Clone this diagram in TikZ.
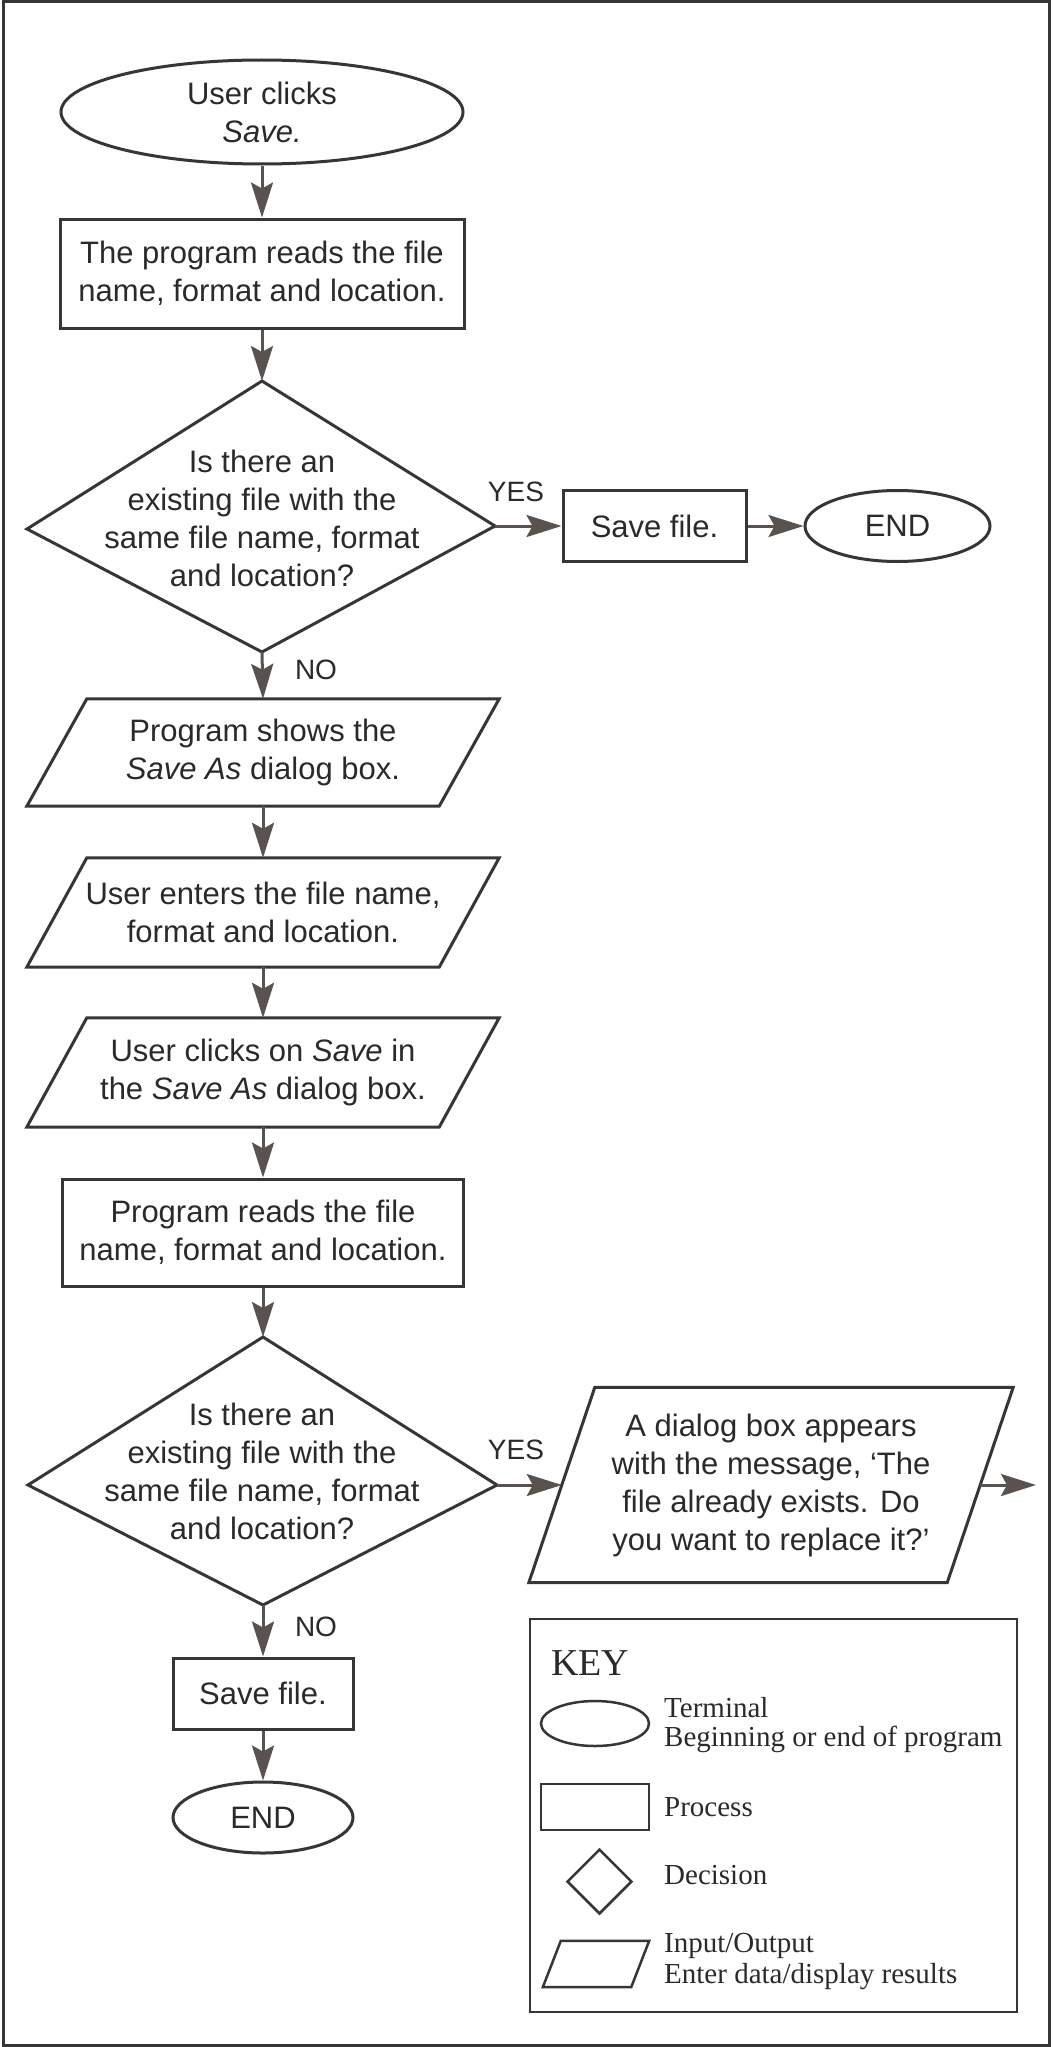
\documentclass[tikz,border=0pt]{standalone}
\usepackage{fontspec}
\setmainfont{Liberation Sans}
\newfontfamily\keyfont{Liberation Serif}
\usetikzlibrary{shapes.geometric,arrows.meta}
\definecolor{ink}{HTML}{2A2A2A}
\definecolor{linec}{HTML}{363636}
\definecolor{arrc}{HTML}{5A524E}
\begin{document}
\begin{tikzpicture}[x=1pt,y=-1pt,
  txt/.style={font=\fontsize{31}{38}\selectfont, text=ink, align=center, inner sep=0pt},
  lbl/.style={font=\fontsize{28}{30}\selectfont, text=ink, inner sep=0pt},
  shp/.style={draw=linec, line width=3pt},
  term/.style={txt, shp, ellipse},
  proc/.style={txt, shp, rectangle},
  conn/.style={draw=arrc, line width=3pt, -{Stealth[length=35pt,width=22pt,inset=6pt]}},
  keyshp/.style={draw=linec, line width=2.5pt, inner sep=0pt},
  keytxt/.style={font=\keyfont\fontsize{29}{32}\selectfont, text=ink, inner sep=0pt, anchor=base west},
]
\useasboundingbox (0,0) rectangle (1054,2047);
\fill[white] (0,0) rectangle (1054,2047);
\draw[draw=linec, line width=3pt] (3,1.5) rectangle (1049.5,2045.5);

% main column
\node[term, minimum width=402, minimum height=104] (start) at (262,112) {User clicks\\\textit{Save.}};
\node[proc, minimum width=404, minimum height=109] (p1) at (262,273.5) {The program reads the file\\name, format and location.};

\coordinate (d1t) at (262,381);
\coordinate (d1r) at (495,526);
\coordinate (d1b) at (262,652);
\coordinate (d1l) at (27,529);
\draw[shp] (d1t) -- (d1r) -- (d1b) -- (d1l) -- cycle;
\node[txt] (d1) at (262,518) {Is there an\\existing file with the\\same file name, format\\and location?};

\node[lbl] (yes1) at (516,492) {YES};
\node[proc, minimum width=183, minimum height=71] (s1) at (654.5,526) {Save file.};
\node[term, minimum width=185, minimum height=71] (e1) at (897.5,526) {END};
\node[lbl] (no1) at (316,670) {NO};

\node[txt, minimum width=412, minimum height=107] (io1) at (263,752.5) {Program shows the\\\textit{Save As} dialog box.};
\draw[shp] ([xshift=30pt]io1.north west) -- ([xshift=30pt]io1.north east) -- ([xshift=-30pt]io1.south east) -- ([xshift=-30pt]io1.south west) -- cycle;
\node[txt, minimum width=412, minimum height=109] (io2) at (263,912.5) {User enters the file name,\\format and location.};
\draw[shp] ([xshift=30pt]io2.north west) -- ([xshift=30pt]io2.north east) -- ([xshift=-30pt]io2.south east) -- ([xshift=-30pt]io2.south west) -- cycle;
\node[txt, minimum width=412, minimum height=109] (io3) at (263,1072.5) {User clicks on \textit{Save} in\\the \textit{Save As} dialog box.};
\draw[shp] ([xshift=30pt]io3.north west) -- ([xshift=30pt]io3.north east) -- ([xshift=-30pt]io3.south east) -- ([xshift=-30pt]io3.south west) -- cycle;

\node[proc, minimum width=401, minimum height=107] (p2) at (263,1232.5) {Program reads the file\\name, format and location.};

\coordinate (d2t) at (263,1337);
\coordinate (d2r) at (497,1485);
\coordinate (d2b) at (263,1605);
\coordinate (d2l) at (28,1485);
\draw[shp] (d2t) -- (d2r) -- (d2b) -- (d2l) -- cycle;
\node[txt] (d2) at (262,1471) {Is there an\\existing file with the\\same file name, format\\and location?};

\node[lbl] (yes2) at (516,1450) {YES};
\node[txt, minimum width=418, minimum height=195] (io4) at (771,1485) {A dialog box appears\\with the message, ‘The\\file already exists. Do\\you want to replace it?’};
\draw[shp] ([xshift=33pt]io4.north west) -- ([xshift=33pt]io4.north east) -- ([xshift=-33pt]io4.south east) -- ([xshift=-33pt]io4.south west) -- cycle;
\coordinate (out) at (1036,1485);

\node[lbl] (no2) at (316,1627) {NO};
\node[proc, minimum width=180, minimum height=71] (s2) at (263,1693.5) {Save file.};
\node[term, minimum width=180, minimum height=71] (e2) at (263,1817.5) {END};

% connectors
\draw[conn] (start.south) -- (p1.north);
\draw[conn] (p1.south) -- (d1t);
\draw[conn] (d1r) -- (s1.west);
\draw[conn] (s1.east) -- (e1.west);
\draw[conn] (d1b) -- (io1.north);
\draw[conn] (io1.south) -- (io2.north);
\draw[conn] (io2.south) -- (io3.north);
\draw[conn] (io3.south) -- (p2.north);
\draw[conn] (p2.south) -- (d2t);
\draw[conn] (d2r) -- (io4.west);
\draw[conn] (io4.east) -- (out);
\draw[conn] (d2b) -- (s2.north);
\draw[conn] (s2.south) -- (e2.north);

% key
\node[keyshp, rectangle, minimum width=487, minimum height=393] (key) at (773.5,1815.5) {};
\node[font=\keyfont\fontsize{38}{40}\selectfont, text=ink, inner sep=0pt, anchor=base west] (keyt) at (551,1675) {KEY};
\node[keyshp, ellipse, minimum width=108, minimum height=45] (kterm) at (595,1723.5) {};
\node[keytxt] (kterm1) at (664,1717) {Terminal};
\node[keytxt] (kterm2) at (664,1746) {Beginning or end of program};
\node[keyshp, rectangle, minimum width=108, minimum height=46] (kproc) at (595,1807) {};
\node[keytxt] (kproct) at (664,1816) {Process};
\node[keyshp, diamond, minimum width=65, minimum height=65] (kdec) at (599.5,1881.5) {};
\node[keytxt] (kdect) at (664,1884) {Decision};
\node[minimum width=88, minimum height=46, inner sep=0pt] (kio) at (596,1964) {};
\draw[keyshp] ([xshift=9pt]kio.north west) -- ([xshift=9pt]kio.north east) -- ([xshift=-9pt]kio.south east) -- ([xshift=-9pt]kio.south west) -- cycle;
\node[keytxt] (kio1) at (664,1952) {Input/Output};
\node[keytxt] (kio2) at (664,1983) {Enter data/display results};
\end{tikzpicture}
\end{document}
